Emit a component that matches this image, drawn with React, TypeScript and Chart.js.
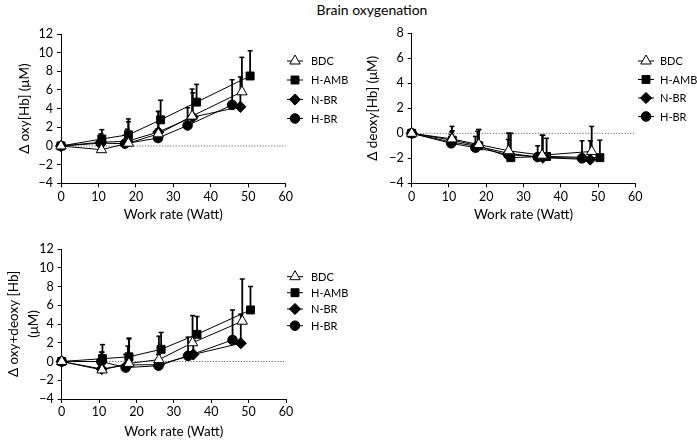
import React, { useEffect, useRef } from "react";
import { Chart, registerables } from "chart.js";
import { drawPoint } from "chart.js/helpers";

Chart.register(...registerables);

const FONT = "Lato, 'Noto Sans', sans-serif";

const seriesNames = ["BDC", "H-AMB", "N-BR", "H-BR"];
const pointStyles = ["triangle", "rect", "rectRot", "circle"];
const pointSizes = [6, 5.6, 5.6, 4.8];
const pointFills = ["#ffffff", "#000000", "#000000", "#000000"];

const xTicks = [0, 10, 20, 30, 40, 50, 60];

// Work rate (x) for each group
const workBDC = [0, 10.8, 18.0, 26.0, 35.0, 48.3];
const workHAMB = [0, 10.9, 18.0, 26.6, 36.2, 50.5];
const workNBR = [0, 10.7, 17.7, 26.0, 35.2, 47.9];
const workHBR = [0, 10.6, 17.1, 25.9, 33.8, 45.7];

// Δ oxy[Hb]
const oxyBDC = [0, -0.4, 0.3, 1.3, 3.2, 5.8];
const oxyHAMB = [0, 0.75, 1.2, 2.8, 4.7, 7.5];
const oxyNBR = [0, 0.4, 0.5, 1.5, 3.1, 4.2];
const oxyHBR = [0, 0.3, 0.25, 0.85, 2.2, 4.4];
const oxyErrBDC = [0, 1.2, 2.3, 2.4, 2.9, 3.7];
const oxyErrHAMB = [0, 1.0, 1.7, 2.1, 1.9, 2.7];
const oxyErrNBR = [0, 0.9, 1.3, 2.2, 2.6, 3.2];
const oxyErrHBR = [0, 0.8, 0.9, 1.0, 1.9, 2.7];

// Δ deoxy[Hb]
const deoxyBDC = [0, -0.45, -0.9, -1.4, -1.75, -1.45];
const deoxyHAMB = [0, -0.55, -1.0, -1.95, -1.85, -1.95];
const deoxyNBR = [0, -0.7, -1.05, -1.6, -1.95, -2.1];
const deoxyHBR = [0, -0.8, -1.15, -1.7, -1.9, -2.0];
const deoxyErrBDC = [0, 1.0, 1.2, 1.4, 1.6, 2.0];
const deoxyErrHAMB = [0, 0.75, 1.3, 1.95, 1.45, 1.4];
const deoxyErrNBR = [0, 0.8, 1.2, 1.6, 1.8, 1.5];
const deoxyErrHBR = [0, 0.7, 0.9, 1.2, 0.9, 1.4];

// Δ oxy+deoxy [Hb]
const totBDC = [0, -0.9, -0.2, 0.2, 2.0, 4.3];
const totHAMB = [0, 0.3, 0.5, 1.3, 2.9, 5.5];
const totNBR = [0, -0.8, -0.35, -0.35, 0.75, 1.95];
const totHBR = [0, 0.0, -0.65, -0.45, 0.6, 2.3];
const totErrBDC = [0, 1.9, 2.6, 2.5, 2.9, 4.5];
const totErrHAMB = [0, 1.5, 2.0, 1.8, 1.9, 2.5];
const totErrNBR = [0, 1.2, 2.0, 1.8, 1.5, 3.1];
const totErrHBR = [0, 1.0, 1.4, 1.2, 2.0, 3.2];

const works = [workBDC, workHAMB, workNBR, workHBR];

type PanelSpec = {
  left: number;
  top: number;
  width: number;
  height: number;
  plotLeft: number;
  plotTop: number;
  plotRight: number;
  plotBottom: number;
  yMin: number;
  yMax: number;
  yTitle: string | string[];
  yTitlePad: number;
  yTitleLineHeight: number;
  xTitlePad: number;
  values: number[][];
  errors: number[][];
  legendX: number;
  legendTextGap: number;
  legendY: number[];
};

const fmt = (v: number) => (v < 0 ? "\u2212" + Math.abs(v) : String(v));

function Panel({ spec }: { spec: PanelSpec }) {
  const ref = useRef<HTMLCanvasElement | null>(null);
  useEffect(() => {
    const canvas = ref.current;
    if (!canvas) return;
    const datasets = seriesNames.map((name, s) => ({
      label: name,
      data: works[s].map((x, i) => ({ x, y: spec.values[s][i] })),
      errs: spec.errors[s],
      showLine: true,
      borderColor: "#000000",
      borderWidth: 1,
      pointStyle: pointStyles[s],
      pointRadius: pointSizes[s],
      pointBackgroundColor: pointFills[s],
      pointBorderColor: "#000000",
      pointBorderWidth: 1,
      clip: false,
    }));

    const overlay = {
      id: "overlay",
      beforeDatasetsDraw(chart: any) {
        const ctx = chart.ctx;
        const xs = chart.scales.x;
        const ys = chart.scales.y;
        const area = chart.chartArea;
        ctx.save();
        const y0 = ys.getPixelForValue(0);
        ctx.strokeStyle = "#666666";
        ctx.lineWidth = 1;
        ctx.setLineDash([1.2, 1.6]);
        ctx.beginPath();
        ctx.moveTo(area.left, y0);
        ctx.lineTo(area.right, y0);
        ctx.stroke();
        ctx.setLineDash([]);
        ctx.strokeStyle = "#000000";
        chart.data.datasets.forEach((ds: any) => {
          ds.data.forEach((p: any, i: number) => {
            const e = ds.errs[i];
            if (!e) return;
            const px = xs.getPixelForValue(p.x);
            const pyA = ys.getPixelForValue(p.y);
            const pyB = ys.getPixelForValue(p.y + e);
            ctx.lineWidth = 1.8;
            ctx.beginPath();
            ctx.moveTo(px, pyA);
            ctx.lineTo(px, pyB);
            ctx.stroke();
            ctx.lineWidth = 1.5;
            ctx.beginPath();
            ctx.moveTo(px - 2.5, pyB);
            ctx.lineTo(px + 2.5, pyB);
            ctx.stroke();
          });
        });
        ctx.restore();
      },
      afterDraw(chart: any) {
        const ctx = chart.ctx;
        ctx.save();
        chart.data.datasets.forEach((ds: any, s: number) => {
          const lx = spec.legendX;
          const ly = spec.legendY[s];
          ctx.strokeStyle = "#000000";
          ctx.lineWidth = 1;
          ctx.beginPath();
          ctx.moveTo(lx - 8, ly);
          ctx.lineTo(lx + 8, ly);
          ctx.stroke();
          ctx.fillStyle = pointFills[s];
          ctx.strokeStyle = "#000000";
          drawPoint(ctx, { pointStyle: pointStyles[s], radius: pointSizes[s], rotation: 0, borderWidth: 1 } as any, lx, ly);
          ctx.fillStyle = "#000000";
          ctx.font = `11px ${FONT}`;
          ctx.textAlign = "left";
          ctx.textBaseline = "middle";
          ctx.fillText(ds.label, lx + spec.legendTextGap, ly + 0.5);
        });
        ctx.restore();
      },
    };

    const chart = new Chart(canvas, {
      type: "scatter",
      data: { datasets: datasets as any },
      options: {
        animation: false,
        responsive: false,
        devicePixelRatio: 1,
        layout: {
          padding: {
            left: 0,
            top: spec.plotTop,
            right: spec.width - spec.plotRight,
            bottom: 0,
          },
        },
        plugins: { legend: { display: false }, tooltip: { enabled: false } },
        scales: {
          x: {
            type: "linear",
            min: 0,
            max: 60,
            afterFit: (sc: any) => {
              sc.height = spec.height - spec.plotBottom;
            },
            afterBuildTicks: (sc: any) => {
              sc.ticks = xTicks.map((v) => ({ value: v }));
            },
            ticks: {
              color: "#000000",
              font: { family: FONT, size: 12.5 },
              padding: 1.9,
              maxRotation: 0,
              callback: (v: any) => fmt(Number(v)),
            },
            grid: { display: true, drawOnChartArea: false, drawTicks: true, tickLength: 4, color: "#000000" },
            border: { display: true, color: "#000000", width: 1 },
            title: {
              display: true,
              text: "Work rate (Watt)",
              color: "#000000",
              font: { family: FONT, size: 13.5 },
              padding: { top: 0, bottom: spec.xTitlePad },
            },
          },
          y: {
            type: "linear",
            min: spec.yMin,
            max: spec.yMax,
            afterFit: (sc: any) => {
              sc.width = spec.plotLeft;
            },
            ticks: {
              stepSize: 2,
              color: "#000000",
              font: { family: FONT, size: 12.5 },
              padding: 4,
              callback: (v: any) => fmt(Number(v)),
            },
            grid: { display: true, drawOnChartArea: false, drawTicks: true, tickLength: 4, color: "#000000" },
            border: { display: true, color: "#000000", width: 1 },
            title: {
              display: true,
              text: spec.yTitle,
              color: "#000000",
              font: { family: FONT, size: 13.5, lineHeight: spec.yTitleLineHeight },
              padding: { top: spec.yTitlePad, bottom: 0 },
            },
          },
        },
      },
      plugins: [overlay],
    });
    return () => chart.destroy();
  }, [spec]);

  return (
    <canvas
      ref={ref}
      width={spec.width}
      height={spec.height}
      style={{ position: "absolute", left: spec.left, top: spec.top, width: spec.width, height: spec.height }}
    />
  );
}

const panels: PanelSpec[] = [
  {
    left: 0, top: 0, width: 362, height: 225,
    plotLeft: 61, plotTop: 34, plotRight: 285.7, plotBottom: 183.3,
    yMin: -4, yMax: 12,
    yTitle: "\u0394 oxy[Hb] (\u03bcM)", yTitlePad: 16.9, yTitleLineHeight: 1.2, xTitlePad: 1.9,
    values: [oxyBDC, oxyHAMB, oxyNBR, oxyHBR],
    errors: [oxyErrBDC, oxyErrHAMB, oxyErrNBR, oxyErrHBR],
    legendX: 295, legendTextGap: 16, legendY: [61, 80, 99.5, 118.5],
  },
  {
    left: 350, top: 0, width: 347, height: 225,
    plotLeft: 61.7, plotTop: 33.3, plotRight: 285.3, plotBottom: 183.3,
    yMin: -4, yMax: 8,
    yTitle: "\u0394 deoxy[Hb] (\u03bcM)", yTitlePad: 14.4, yTitleLineHeight: 1.2, xTitlePad: 1.9,
    values: [deoxyBDC, deoxyHAMB, deoxyNBR, deoxyHBR],
    errors: [deoxyErrBDC, deoxyErrHAMB, deoxyErrNBR, deoxyErrHBR],
    legendX: 296, legendTextGap: 14, legendY: [61, 79.5, 98, 116.5],
  },
  {
    left: 0, top: 220, width: 362, height: 220,
    plotLeft: 61.7, plotTop: 29, plotRight: 286, plotBottom: 179,
    yMin: -4, yMax: 12,
    yTitle: ["\u0394 oxy+deoxy [Hb]", "(\u03bcM)"], yTitlePad: 4, yTitleLineHeight: 1.48, xTitlePad: 0.2,
    values: [totBDC, totHAMB, totNBR, totHBR],
    errors: [totErrBDC, totErrHAMB, totErrNBR, totErrHBR],
    legendX: 295, legendTextGap: 16, legendY: [56.7, 72.7, 89, 105.7],
  },
];

export default function App() {
  return (
    <div style={{ position: "absolute", left: 0, top: 0, width: 697, height: 440, background: "#ffffff" }}>
      <div
        style={{
          position: "absolute",
          left: 0,
          top: 0,
          width: 744,
          textAlign: "center",
          fontFamily: FONT,
          fontSize: 14,
          lineHeight: "20px",
          color: "#000000",
        }}
      >
        Brain oxygenation
      </div>
      {panels.map((p, i) => (
        <Panel key={i} spec={p} />
      ))}
    </div>
  );
}
